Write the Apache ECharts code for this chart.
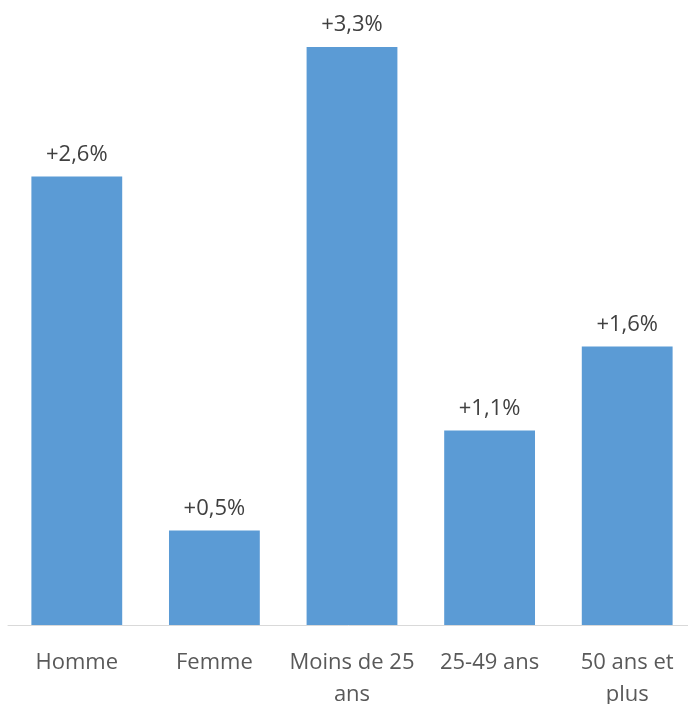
<!DOCTYPE html>
<html>
<head>
<meta charset="utf-8">
<script src="https://cdn.jsdelivr.net/npm/echarts@6/dist/echarts.min.js"></script>
<style>
  html, body { margin: 0; padding: 0; background: #fff; }
  #chart { width: 688px; height: 704px; }
</style>
</head>
<body>
<div id="chart"></div>
<script>
const categories = ['Homme', 'Femme', 'Moins de 25 ans', '25-49 ans', '50 ans et plus']
const tickLabels = ['Homme', 'Femme', 'Moins de 25\nans', '25-49 ans', '50 ans et\nplus']
const values = [2.56, 0.54, 3.3, 1.11, 1.59]
const valueLabels = ['+2,6%', '+0,5%', '+3,3%', '+1,1%', '+1,6%']

const chart = echarts.init(document.getElementById('chart'))

chart.setOption({
  backgroundColor: '#fff',
  animation: false,
  grid: { top: 47, bottom: 79, left: 8, width: 688, outerBoundsMode: 'none', containLabel: false },
  xAxis: {
    type: 'category',
    data: categories,
    axisLine: { lineStyle: { color: '#d9d9d9', width: 1 } },
    axisTick: { show: false },
    axisLabel: {
      color: '#595959',
      fontSize: 22,
      fontFamily: 'Open Sans',
      margin: 22,
      lineHeight: 32,
      interval: 0,
      formatter: (v, i) => tickLabels[i],
    },
  },
  yAxis: {
    type: 'value',
    min: 0,
    max: 3.3,
    show: false,
    splitLine: { show: false },
  },
  series: [
    {
      type: 'bar',
      data: values,
      barCategoryGap: '34%',
      itemStyle: { color: '#5b9bd5' },
      label: {
        show: true,
        position: 'top',
        distance: 11,
        color: '#404040',
        fontSize: 22,
        fontFamily: 'Open Sans',
        formatter: (p) => valueLabels[p.dataIndex],
      },
    },
  ],
})
</script>
</body>
</html>
